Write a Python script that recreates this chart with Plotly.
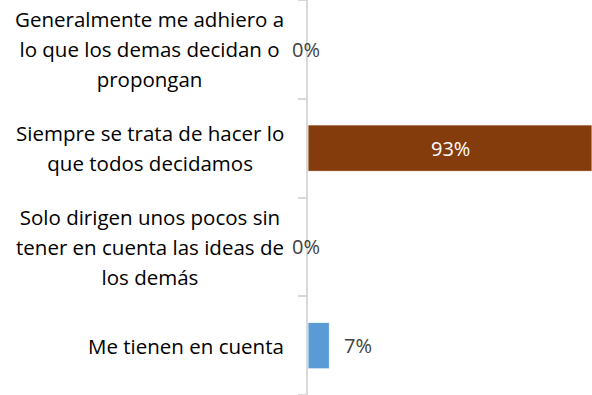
import plotly.graph_objects as go

categories = [
    "Generalmente me adhiero a<br>lo que los demas decidan o<br>propongan",
    "Siempre se trata de hacer lo<br>que todos decidamos",
    "Solo dirigen unos pocos sin<br>tener en cuenta las ideas de<br>los demás",
    "Me tienen en cuenta",
]
values = [0, 93, 0, 7]
colors = ["#5B9BD5", "#843C0C", "#5B9BD5", "#5B9BD5"]
labels = [f"{v}%" for v in values]

fig = go.Figure()
fig.add_trace(go.Bar(
    y=list(range(len(categories))),
    x=values,
    orientation="h",
    width=0.47,
    marker=dict(color=colors, line=dict(color="white", width=0.8)),
    hoverinfo="skip",
))


def styled(text, px):
    # wrap every line so the text is smaller than the line pitch of the outer font
    return "<br>".join(f'<span style="font-size:{px}px">{ln}</span>' for ln in text.split("<br>"))


annotations = []
for i, (cat, v, lab) in enumerate(zip(categories, values, labels)):
    annotations.append(dict(
        x=0, xref="paper", y=i, yref="y", text=styled(cat, 20.5), showarrow=False,
        xanchor="right", yanchor="middle", align="center", xshift=-22,
        font=dict(family="Open Sans, sans-serif", size=23, color="#000000"),
    ))
    value_font = dict(family="Open Sans, sans-serif", size=20, color="#404040")
    if v >= 50:
        annotations.append(dict(
            x=v / 2, y=i, text=lab, showarrow=False, xanchor="center",
            font=dict(value_font, color="white"),
        ))
    elif v == 0:
        annotations.append(dict(
            x=0, y=i, text=lab, showarrow=False, xanchor="center", xshift=-2,
            font=value_font,
        ))
    else:
        annotations.append(dict(
            x=v, y=i, text=lab, showarrow=False, xanchor="left", xshift=13,
            font=value_font,
        ))

fig.update_layout(
    width=592, height=395,
    margin=dict(l=308, r=0, t=0, b=0),
    paper_bgcolor="white", plot_bgcolor="white",
    showlegend=False,
    annotations=annotations,
    xaxis=dict(range=[0, 93], visible=False, fixedrange=True),
    yaxis=dict(
        type="category",
        range=[3.5, -0.5],
        tickmode="array", tickvals=list(range(len(categories))),
        showticklabels=False,
        tickson="boundaries", ticks="outside", ticklen=8,
        tickcolor="#D9D9D9", tickwidth=1.5,
        showline=True, linecolor="#D9D9D9", linewidth=1.5,
        showgrid=False, zeroline=False,
    ),
)

fig.write_html("out.html")
